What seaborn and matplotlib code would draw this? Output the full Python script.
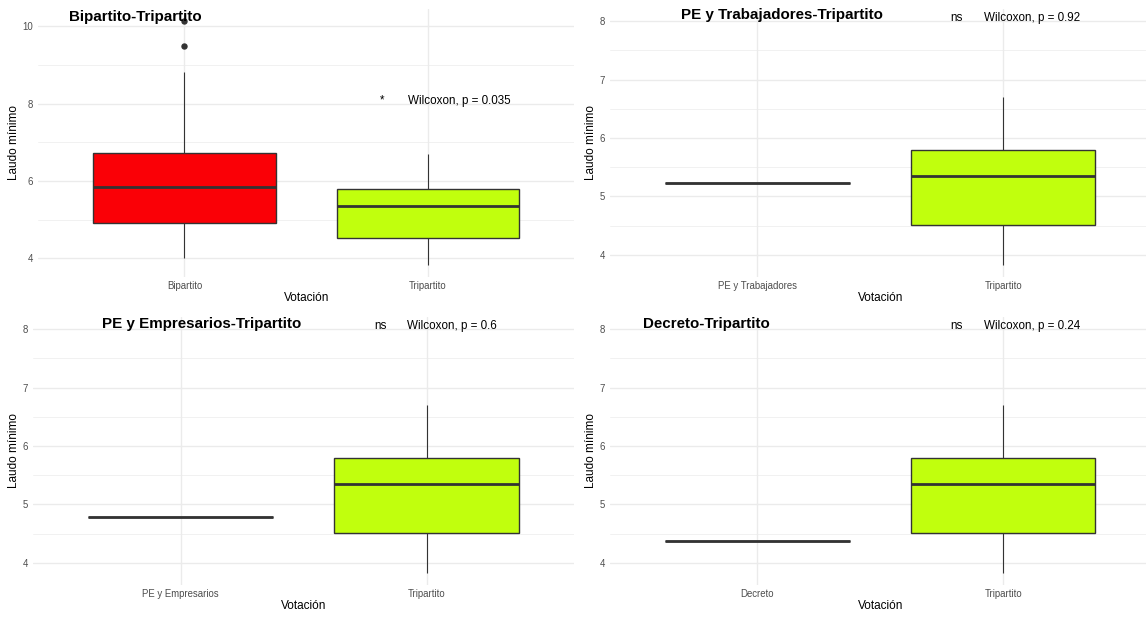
import numpy as np
import pandas as pd
import matplotlib
matplotlib.use("Agg")
import matplotlib.pyplot as plt
from matplotlib.ticker import MultipleLocator
import seaborn as sns

# laudo minimo values per type of vote
bipartito = [4.0, 4.3, 4.6, 4.92, 5.2, 5.5, 5.83, 6.0, 6.4, 6.72, 8.82, 9.5, 10.13]
tripartito = [3.83, 4.52, 5.35, 5.80, 6.70]
pe_trabajadores = [5.23]
pe_empresarios = [4.78]
decreto = [4.38]

groups = ["Bipartito", "PE y Trabajadores", "PE y Empresarios", "Decreto"]
group_values = [bipartito, pe_trabajadores, pe_empresarios, decreto]
p_values = ["0.035", "0.92", "0.6", "0.24"]
signif = ["*", "ns", "ns", "ns"]
label_y = 8.0

group_colors = ["#FA0006", "#333333", "#333333", "#333333"]
tri_color = "#C1FF0D"

sns.set_theme(style="whitegrid")
plt.rcParams["font.family"] = ["Liberation Sans", "DejaVu Sans"]
plt.rcParams["text.color"] = "black"
plt.rcParams["axes.labelcolor"] = "black"

W, H = 1146, 617
fig = plt.figure(figsize=(W / 100, H / 100), dpi=100)

# panel rectangles in pixels: left, top, right, bottom
rects = [(38.4, 9, 574, 277), (610, 9, 1150.6, 277),
         (33, 317, 574.4, 585), (610, 317, 1150.6, 585)]
title_pos = [(69, 21), (681, 19.5), (101.6, 327.7), (643, 327.7)]
ylabel_x = [14.5, 591.5, 14, 591.5]

for i, g in enumerate(groups):
    l, t, r, b = rects[i]
    ax = fig.add_axes([l / W, 1 - b / H, (r - l) / W, (b - t) / H])

    df = pd.DataFrame({
        "Votación": [g] * len(group_values[i]) + ["Tripartito"] * len(tripartito),
        "Laudo": list(group_values[i]) + tripartito,
    })
    sns.boxplot(data=df, x="Votación", y="Laudo", hue="Votación",
                order=[g, "Tripartito"],
                palette={g: group_colors[i], "Tripartito": tri_color},
                saturation=1, width=0.75, linecolor="#333333", linewidth=1.0,
                fliersize=3.6, showcaps=False, legend=False, ax=ax,
                medianprops=dict(linewidth=2.0),
                whiskerprops=dict(linewidth=0.8),
                flierprops=dict(marker="o", markerfacecolor="#333333",
                                markeredgecolor="#333333"))

    # ggplot style limits: 5% expansion around data and label
    lo = min(min(group_values[i]), min(tripartito), label_y)
    hi = max(max(group_values[i]), max(tripartito), label_y)
    pad = (hi - lo) * 0.05
    ax.set_ylim(lo - pad, hi + pad)
    ax.set_xlim(-0.6, 1.6)

    if i == 0:
        ax.yaxis.set_major_locator(MultipleLocator(2))
        ax.yaxis.set_minor_locator(MultipleLocator(1))
    else:
        ax.yaxis.set_major_locator(MultipleLocator(1))
        ax.yaxis.set_minor_locator(MultipleLocator(0.5))

    ax.grid(which="major", color="#EBEBEB", linewidth=1.0)
    ax.grid(which="minor", axis="y", color="#EBEBEB", linewidth=0.5)
    ax.set_axisbelow(True)
    for s in ax.spines.values():
        s.set_visible(False)
    ax.set_facecolor("white")
    ax.tick_params(axis="both", which="both", length=0, labelsize=6.9,
                   labelcolor="#4D4D4D")
    ax.tick_params(axis="y", pad=3.8)
    ax.tick_params(axis="x", pad=2.9)

    ax.set_xlabel("Votación", fontsize=8.5, color="black")
    ax.set_ylabel("Laudo mínimo", fontsize=8.5, color="black")
    ax.xaxis.set_label_coords(0.5, -21 / (b - t))
    ax.xaxis.label.set_va("center")
    ax.yaxis.set_label_coords((ylabel_x[i] - l) / (r - l), 0.5)
    ax.yaxis.label.set_va("center")

    # comparison labels
    ax.text(0.81, label_y, signif[i], ha="center", va="baseline", fontsize=8.4,
            color="black")
    ax.text(0.92, label_y, "Wilcoxon, p = " + p_values[i], ha="left",
            va="baseline", fontsize=8.4, color="black")

    tx, ty = title_pos[i]
    fig.text(tx / W, 1 - ty / H, g + "-Tripartito", ha="left", va="baseline",
             fontsize=10.9, fontweight="bold", color="black")

fig.savefig("out.png", dpi=100, facecolor="white")
